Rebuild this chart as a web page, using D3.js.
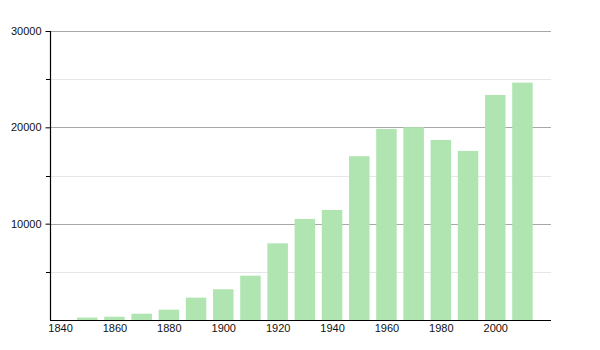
<!DOCTYPE html>
<html>
<head>
<meta charset="utf-8">
<script src="https://cdn.jsdelivr.net/npm/d3@7"></script>
<style>
  body { margin: 0; background: #fff; }
  text { font-family: "Liberation Sans", Arial, sans-serif; font-size: 11px; fill: #111; }
</style>
</head>
<body>
<script>
// population by census year
var years = [1850, 1860, 1870, 1880, 1890, 1900, 1910, 1920, 1930, 1940, 1950, 1960, 1970, 1980, 1990, 2000, 2010]
var population = [250, 340, 650, 1070, 2320, 3190, 4600, 7960, 10490, 11420, 17000, 19830, 20010, 18690, 17550, 23360, 24640]
var yMajor = [10000, 20000, 30000]
var yMinor = [5000, 15000, 25000]
var xTicks = [1840, 1860, 1880, 1900, 1920, 1940, 1960, 1980, 2000]

var width = 600, height = 350
// note: "top" is taken by window.top, so plot edges get their own names
var plotLeft = 50, plotRight = 551, plotTop = 31, plotBottom = 320

var svg = d3.select("body").append("svg")
    .attr("width", width)
    .attr("height", height)

// soft edges on the bars
svg.append("defs").append("filter").attr("id", "soft")
    .append("feGaussianBlur").attr("stdDeviation", 0.6)

var x = d3.scaleLinear().domain([1836.3, 2020.5]).range([plotLeft, plotRight])
var y = d3.scaleLinear().domain([0, 30000]).range([plotBottom, plotTop])

// minor grid
svg.append("g").selectAll("line")
    .data(yMinor)
    .enter().append("line")
    .attr("x1", plotLeft).attr("x2", plotRight)
    .attr("y1", d => Math.round(y(d)) + 0.5).attr("y2", d => Math.round(y(d)) + 0.5)
    .attr("stroke", "#e6e6e6")

// major grid
svg.append("g").selectAll("line")
    .data(yMajor)
    .enter().append("line")
    .attr("x1", plotLeft).attr("x2", plotRight)
    .attr("y1", d => Math.round(y(d)) + 0.5).attr("y2", d => Math.round(y(d)) + 0.5)
    .attr("stroke", "#a8a8a8")

// bars
var barW = 20.5
svg.append("g").attr("filter", "url(#soft)")
    .selectAll("rect")
    .data(years)
    .enter().append("rect")
    .attr("x", (d) => x(d) - barW / 2)
    .attr("y", (d, i) => y(population[i]))
    .attr("width", barW)
    .attr("height", (d, i) => y(0) - y(population[i]))
    .attr("fill", "#b0e4b0")

// y axis
var yAxis = d3.axisLeft(y).tickValues(yMajor).tickSize(5).tickPadding(4).tickFormat(d3.format("d"))
var gy = svg.append("g").attr("transform", "translate(" + (plotLeft + 0.5) + ",0)").call(yAxis)
gy.select(".domain").remove()
gy.selectAll("text").style("font-size", "11px")

svg.append("g").selectAll("line")
    .data(yMinor)
    .enter().append("line")
    .attr("x1", plotLeft - 4).attr("x2", plotLeft)
    .attr("y1", d => Math.round(y(d)) + 0.5).attr("y2", d => Math.round(y(d)) + 0.5)
    .attr("stroke", "#000")

svg.append("line")
    .attr("x1", plotLeft + 0.5).attr("x2", plotLeft + 0.5)
    .attr("y1", plotTop).attr("y2", plotBottom)
    .attr("stroke", "#000").attr("stroke-width", 1.2)

// x axis
var xAxis = d3.axisBottom(x).tickValues(xTicks).tickSize(0).tickPadding(4).tickFormat(d3.format("d"))
var gx = svg.append("g").attr("transform", "translate(0," + (plotBottom + 0.5) + ")").call(xAxis)
gx.select(".domain").remove()
gx.selectAll("text").style("font-size", "11px")

svg.append("line")
    .attr("x1", plotLeft).attr("x2", plotRight)
    .attr("y1", plotBottom + 0.5).attr("y2", plotBottom + 0.5)
    .attr("stroke", "#000").attr("stroke-width", 1.2)
</script>
</body>
</html>
